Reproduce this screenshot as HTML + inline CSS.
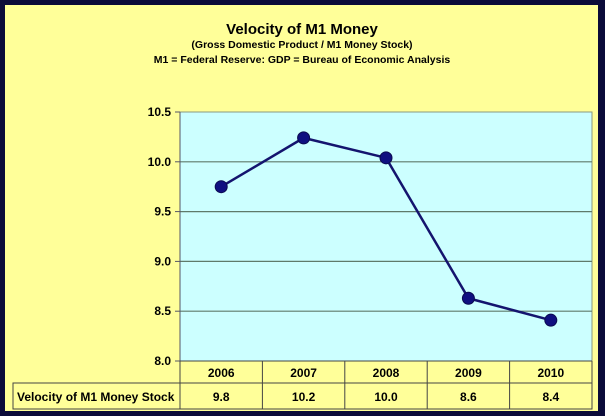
<!DOCTYPE html>
<html><head><meta charset="utf-8"><style>
html,body{margin:0;padding:0;background:#0b0b3a;}
svg{display:block;font-family:"Liberation Sans",Arial,sans-serif;}
</style></head><body>
<svg id="chart" width="605" height="416" viewBox="0 0 605 416">
<rect x="0" y="0" width="605" height="416" fill="#0b0b3a"/>
<rect x="5" y="5" width="593" height="406" fill="#ffff99"/>
<text x="302" y="34" text-anchor="middle" font-size="15" font-weight="bold">Velocity of M1 Money</text>
<text x="302" y="48" text-anchor="middle" font-size="10.5" font-weight="bold">(Gross Domestic Product / M1 Money Stock)</text>
<text x="302" y="63" text-anchor="middle" font-size="10.5" font-weight="bold">M1 = Federal Reserve: GDP = Bureau of Economic Analysis</text>
<rect x="180" y="112" width="412" height="249" fill="#ccffff" stroke="#8a9a80" stroke-width="1"/>
<g id="grid"></g><g id="series"></g><g id="table"></g>
</svg>
<script>
const categories=["2006","2007","2008","2009","2010"];
const values=[9.75,10.24,10.04,8.63,8.41];
const tableLabels=["9.8","10.2","10.0","8.6","8.4"];
const yTicks=[8.0,8.5,9.0,9.5,10.0,10.5];
const NS="http://www.w3.org/2000/svg";
const x0=180,x1=592,yTop=112,yBot=361,vMin=8,vMax=10.5;
const colW=(x1-x0)/categories.length;
function xs(i){return x0+colW*(i+0.5);}
function ys(v){return yBot-(v-vMin)/(vMax-vMin)*(yBot-yTop);}
function mk(tag,attrs,parent){const e=document.createElementNS(NS,tag);for(const k in attrs)e.setAttribute(k,attrs[k]);parent.appendChild(e);return e;}
const grid=document.getElementById('grid');
yTicks.forEach(t=>{
  const y=ys(t);
  if(t>vMin&&t<vMax){const l=mk('line',{x1:x0,x2:x1,y1:y,y2:y,stroke:'#5f7a6a','stroke-width':1.2},grid);
  
  }
  const tk=mk('line',{x1:x0-5,x2:x0,y1:y,y2:y,stroke:'#556',"stroke-width":1},grid);
  
  
  const tx=mk('text',{x:x0-9,y:y+4,'text-anchor':'end','font-size':12,'font-weight':'bold'},grid);
  tx.textContent=t.toFixed(1);
  
  
});
mk('line',{x1:x0,x2:x0,y1:yTop,y2:yBot,stroke:'#556','stroke-width':1},grid);
const ser=document.getElementById('series');
const pl=mk('polyline',{points:values.map((v,i)=>xs(i)+','+ys(v)).join(' '),fill:'none',stroke:'#14146e','stroke-width':2.5},ser);


values.forEach((v,i)=>{
  const c=mk('circle',{cx:xs(i),cy:ys(v),r:6,fill:'#0f0f80',stroke:'#0a0a50','stroke-width':1},ser);
  
  
});
const tb=document.getElementById('table');
const r0=361,r1=383,r2=409,tl=13;
mk('rect',{x:tl,y:r1,width:x1-tl,height:r2-r1,fill:'none',stroke:'#444','stroke-width':1},tb);
mk('line',{x1:x0,x2:x1,y1:r0,y2:r0,stroke:'#444'},tb);
mk('line',{x1:x1,x2:x1,y1:r0,y2:r2,stroke:'#444'},tb);
for(let i=0;i<=categories.length;i++){mk('line',{x1:x0+colW*i,x2:x0+colW*i,y1:r0,y2:r2,stroke:'#444'},tb);}
categories.forEach((c,i)=>{
  const t=mk('text',{x:xs(i),y:r0+16,'text-anchor':'middle','font-size':12,'font-weight':'bold'},tb);
  t.textContent=c;
  
  
  const t2=mk('text',{x:xs(i),y:r1+18,'text-anchor':'middle','font-size':12,'font-weight':'bold'},tb);
  t2.textContent=tableLabels[i];
  
  
});
const lab=mk('text',{x:tl+4,y:r1+18,'font-size':12,'font-weight':'bold'},tb);
lab.textContent='Velocity of M1 Money Stock';


</script>
</body></html>
